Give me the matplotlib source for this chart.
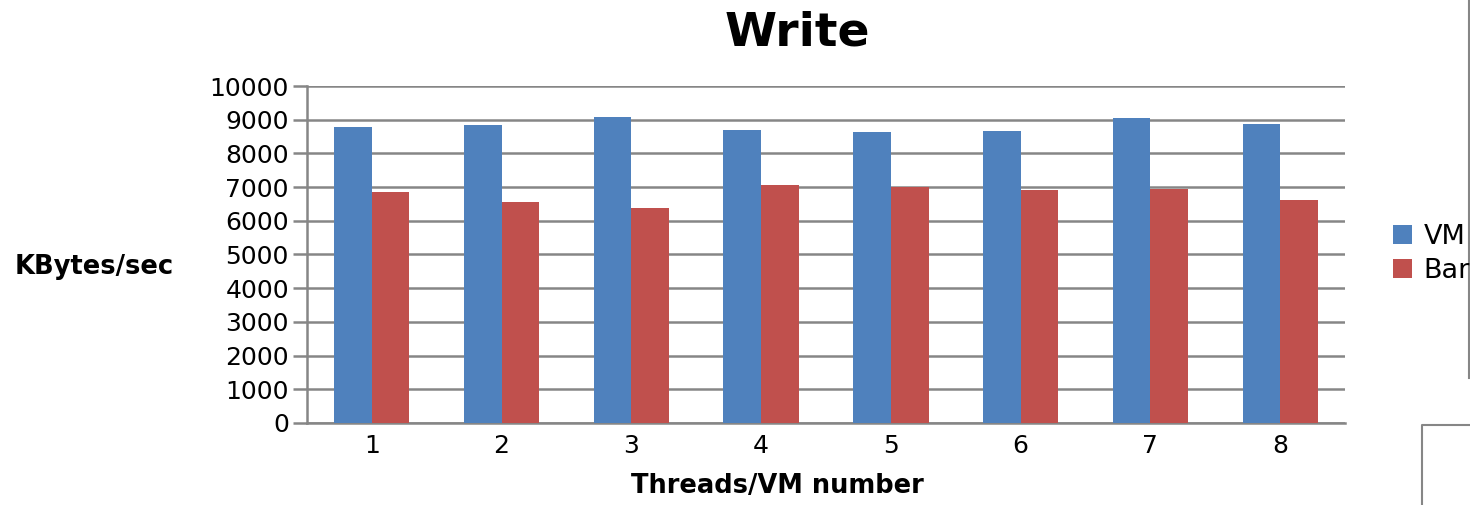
import numpy as np
import matplotlib.pyplot as plt
from matplotlib.lines import Line2D

threads = [1, 2, 3, 4, 5, 6, 7, 8]
vm = [8780, 8840, 9080, 8690, 8635, 8665, 9050, 8870]
bare = [6855, 6560, 6380, 7060, 7000, 6915, 6945, 6615]

blue = '#4F81BD'
red = '#C0504D'
grey = '#868686'

fig = plt.figure(figsize=(14.7, 5.05), dpi=100)
ax = fig.add_axes([0.2088, 0.1624, 0.7062, 0.6673])

x = np.array(threads)
w = 0.29
ax.bar(x - w/2, vm, w, color=blue, label='VM', zorder=3)
ax.bar(x + w/2, bare, w, color=red, label='Bare', zorder=3)

ax.set_xlim(0.5, 8.5)
ax.set_ylim(0, 10000)
ax.set_yticks(np.arange(0, 10001, 1000))
ax.set_xticks(threads)
ax.yaxis.grid(True, color=grey, linewidth=1.8, zorder=0)
ax.set_axisbelow(True)
for s in ['top', 'right']:
    ax.spines[s].set_visible(False)
for s in ['left', 'bottom']:
    ax.spines[s].set_color(grey)
    ax.spines[s].set_linewidth(1.8)
ax.spines['bottom'].set_zorder(2)
ax.tick_params(axis='y', labelsize=18, length=10, width=1.8, color=grey, pad=3)
ax.tick_params(axis='x', labelsize=18, length=0, pad=8)

fig.text(777/1470, 1 - 486/505, 'Threads/VM number', fontsize=18.5,
         fontweight='bold', ha='center', va='center')
fig.text(15/1470, 1 - 267/505, 'KBytes/sec', fontsize=18.5, fontweight='bold',
         ha='left', va='center')
fig.text(797/1470, 1 - 33/505, 'Write', fontsize=34, fontweight='bold',
         ha='center', va='center')

fig.legend(loc='center left', bbox_to_anchor=(1382/1470, 1 - 254/505),
           frameon=False, fontsize=19.5, handlelength=0.72, handleheight=0.72,
           handletextpad=0.42, labelspacing=0.3, borderaxespad=0)

# stray frame lines at the right edge
fig.add_artist(Line2D([1468.5/1470, 1468.5/1470], [1, 1 - 378/505],
                      transform=fig.transFigure, color=grey, linewidth=1.5))
fig.add_artist(Line2D([1422/1470, 1422/1470, 1], [0, 1 - 425/505, 1 - 425/505],
                      transform=fig.transFigure, color=grey, linewidth=1.5))

fig.savefig('out.png', dpi=100)
